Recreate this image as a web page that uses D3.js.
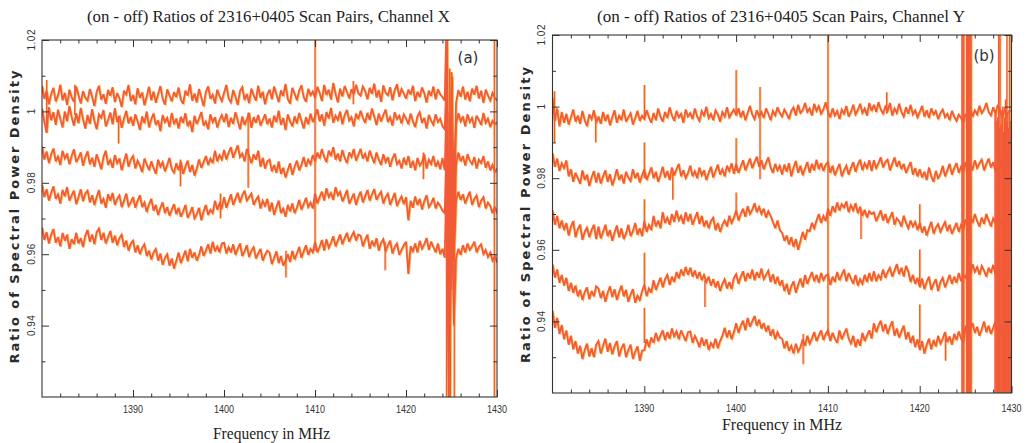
<!DOCTYPE html>
<html>
<head>
<meta charset="utf-8">
<title>(on - off) Ratios of 2316+0405 Scan Pairs</title>
<script src="https://d3js.org/d3.v7.min.js"></script>
<style>
  body { margin: 0; background: #fff; }
</style>
</head>
<body>
<script>
// frequency grid (MHz) shared by every scan
var freqs = d3.range(201).map(function(i) { return 1380 + i * 0.25; });

// scan ratios, stored as deviation from unity in units of 1e-4 (ratio = 1 + v/1e4)
// Channel X, five scan pairs, top to bottom
var scanX1 = [72,35,58,20,49,66,28,44,75,31,52,18,61,40,27,70,45,22,57,38,
  30,63,41,15,55,72,33,48,21,60,44,68,26,51,37,12,58,47,74,29,
  46,20,65,38,53,17,42,69,31,56,24,48,71,36,19,62,45,28,54,40,
  67,33,21,58,44,76,30,50,25,63,39,14,55,70,35,47,22,61,43,29,
  52,74,36,25,60,41,18,57,68,32,49,23,64,45,30,72,38,55,20,47,
  61,34,70,48,26,59,43,77,35,22,66,50,31,58,73,40,27,63,45,56,
  38,69,52,29,74,46,61,33,80,49,25,64,42,71,55,36,62,48,75,51,
  44,70,57,34,66,49,78,39,60,27,73,52,45,68,31,59,76,41,63,50,
  36,61,47,72,29,55,40,67,51,25,58,43,70,34,62,48,40,30,300,-900,
  110,-250,25,60,41,70,33,55,28,64,47,72,36,58,24,61,45,30,52,38,
  30];
var scanX2 = [8,-30,-60,12,-25,-2,-38,5,-20,-45,0,-28,15,-15,-40,-5,-33,10,-22,-48,
  -10,-35,6,-27,-50,-8,-18,4,-42,-24,-3,-36,9,-30,-12,-46,-20,2,-34,-15,
  -40,-8,-28,-52,-14,-33,0,-45,-22,-6,-38,-25,-55,-10,-30,-18,-44,-4,-36,-20,
  -48,-15,-32,-5,-42,-26,-58,-12,-35,-20,-2,-40,-28,-50,-8,-30,-16,-45,-24,-10,
  -30,-6,-44,-18,-35,-2,-26,-50,-14,-38,-22,-4,-46,-16,-32,-10,-40,-24,-8,-36,
  -20,-45,-12,-30,2,-38,-18,-52,-8,-28,-42,-14,-34,-4,-26,-48,-16,-36,-6,-30,
  -14,6,-28,-8,-40,-2,-20,10,-32,-12,-24,0,-36,-10,4,-26,-16,-42,-6,-22,
  2,-18,-32,-4,-24,8,-14,-38,-6,-28,-10,5,-30,-16,-40,-2,-22,-12,-34,-8,
  -20,-36,-6,-28,-44,-14,-2,-32,-18,-48,-10,-26,-38,-8,-30,-20,-42,-50,120,-800,
  60,-300,-35,-5,-28,-14,-42,-8,-30,-18,-46,-12,-24,-38,-4,-32,-20,-44,-26,-36,
  -30];
var scanX3 = [-98,-135,-112,-145,-120,-104,-140,-126,-150,-110,-132,-118,-148,-125,-106,-142,-130,-115,-152,-128,
  -112,-148,-130,-155,-120,-140,-162,-128,-110,-150,-136,-158,-122,-145,-132,-165,-140,-118,-155,-135,
  -125,-160,-138,-152,-170,-132,-148,-165,-140,-158,-175,-135,-155,-142,-168,-150,-130,-162,-172,-145,
  -165,-140,-175,-155,-138,-170,-150,-180,-160,-135,-158,-142,-125,-150,-132,-145,-110,-140,-122,-135,
  -108,-135,-115,-100,-130,-112,-95,-128,-118,-140,-105,-125,-145,-120,-135,-110,-155,-130,-160,-140,
  -135,-168,-150,-172,-140,-175,-158,-185,-165,-145,-178,-155,-138,-165,-150,-128,-155,-135,-148,-122,
  -140,-115,-132,-105,-128,-142,-110,-125,-100,-135,-118,-140,-108,-130,-145,-115,-128,-105,-138,-122,
  -105,-132,-118,-140,-110,-128,-145,-115,-135,-150,-120,-142,-128,-155,-132,-118,-148,-138,-160,-130,
  -150,-125,-158,-138,-165,-130,-152,-142,-120,-160,-135,-148,-125,-155,-140,-162,-130,-165,60,-900,
  -30,-400,-150,-115,-140,-125,-152,-120,-138,-148,-128,-160,-135,-145,-125,-158,-140,-165,-150,-170,
  -160];
var scanX4 = [-205,-240,-218,-250,-228,-210,-245,-232,-258,-220,-238,-212,-250,-235,-222,-260,-240,-218,-252,-230,
  -222,-255,-235,-262,-240,-220,-258,-245,-270,-232,-250,-228,-262,-245,-235,-268,-250,-230,-265,-255,
  -240,-270,-250,-235,-268,-255,-282,-260,-245,-278,-262,-290,-270,-255,-285,-268,-292,-275,-260,-288,
  -270,-295,-280,-262,-298,-285,-268,-300,-288,-270,-305,-280,-262,-290,-275,-285,-250,-275,-258,-270,
  -240,-270,-252,-232,-262,-245,-228,-255,-235,-222,-250,-240,-230,-262,-248,-238,-272,-250,-265,-245,
  -280,-255,-290,-268,-250,-285,-272,-295,-262,-280,-258,-285,-270,-248,-275,-260,-242,-268,-255,-272,
  -230,-258,-240,-225,-250,-215,-240,-228,-248,-212,-235,-225,-252,-238,-220,-258,-245,-230,-262,-240,
  -225,-255,-238,-220,-250,-232,-218,-248,-235,-225,-258,-240,-230,-262,-245,-228,-265,-250,-238,-260,
  -240,-305,-250,-270,-238,-262,-245,-275,-252,-235,-268,-258,-242,-272,-255,-265,-278,-285,-50,-880,
  -120,-420,-250,-225,-248,-232,-258,-240,-225,-262,-245,-235,-268,-250,-240,-272,-255,-265,-285,-268,
  -285];
var scanX5 = [-325,-360,-338,-370,-345,-330,-368,-352,-378,-340,-362,-345,-385,-358,-372,-340,-370,-355,-380,-348,
  -332,-365,-345,-372,-338,-328,-360,-340,-370,-352,-335,-368,-348,-375,-355,-345,-380,-362,-390,-370,
  -362,-395,-375,-400,-382,-372,-405,-390,-415,-395,-385,-418,-398,-430,-410,-400,-432,-412,-440,-418,
  -395,-425,-408,-390,-420,-385,-410,-395,-418,-402,-378,-405,-390,-372,-398,-365,-392,-378,-395,-370,
  -368,-398,-380,-395,-372,-402,-385,-370,-405,-392,-375,-408,-390,-380,-412,-398,-385,-418,-402,-390,
  -395,-428,-410,-392,-425,-405,-432,-418,-400,-422,-390,-415,-398,-380,-410,-392,-375,-402,-385,-395,
  -365,-395,-380,-360,-390,-358,-382,-368,-350,-378,-362,-345,-372,-355,-340,-365,-350,-338,-362,-345,
  -348,-378,-360,-345,-385,-362,-378,-355,-390,-368,-358,-392,-375,-362,-398,-380,-370,-402,-388,-375,
  -365,-455,-378,-392,-370,-395,-362,-385,-372,-355,-388,-365,-380,-395,-370,-400,-385,-410,-120,-900,
  -200,-600,-410,-385,-402,-375,-395,-370,-388,-378,-365,-395,-380,-372,-400,-388,-408,-395,-418,-405,
  -424];

// Channel Y, five scan pairs, top to bottom
var scanY1 = [25,-40,-5,-55,-15,-45,-20,-50,-30,-8,-42,-25,-48,-12,-38,-55,-22,-35,-10,-45,
  -28,-48,-15,-40,-22,-52,-30,-10,-45,-25,-38,-8,-42,-30,-18,-50,-32,-12,-40,-25,
  -35,-10,-30,-45,-18,-38,-5,-28,-42,-15,-32,-2,-25,-40,-12,-30,-20,-45,-8,-28,
  -18,-35,-5,-28,-40,-12,-25,0,-32,-20,-38,-10,-22,-42,-15,-28,-2,-30,-18,-8,
  -25,-5,-30,-12,-38,-18,2,-22,-35,-10,-28,-15,-32,-5,-20,-38,-12,-25,-2,-18,
  -28,-8,-20,-35,-12,-2,-25,5,-18,-10,10,-15,-5,-25,8,-12,2,-20,-8,12,
  -15,-30,-5,-25,-12,-35,-8,-20,2,-28,-15,5,-22,-10,8,-18,-5,-25,10,-12,
  5,-15,12,-8,-20,0,-12,10,-25,-5,-18,8,-15,-28,-2,-20,5,-22,-10,-30,
  -15,2,-28,-10,-32,-5,-22,-12,-35,-18,-8,-30,-20,-38,-12,-28,-40,-22,-32,-45,
  -20,-35,-5,-28,-10,-22,2,-18,-8,10,-15,-25,-2,-20,5,-15,-30,-8,-22,-12,
  -12];
var scanY2 = [-130,-168,-145,-180,-158,-172,-150,-195,-175,-210,-185,-200,-215,-178,-205,-190,-222,-198,-180,-212,
  -185,-215,-195,-178,-210,-188,-220,-200,-175,-205,-190,-215,-182,-198,-208,-175,-200,-185,-212,-192,
  -175,-205,-188,-170,-200,-182,-210,-192,-168,-198,-180,-205,-170,-192,-175,-160,-195,-178,-200,-185,
  -165,-195,-180,-200,-170,-192,-178,-205,-185,-168,-198,-180,-162,-190,-175,-195,-165,-180,-158,-188,
  -160,-185,-168,-150,-178,-162,-145,-172,-155,-140,-168,-150,-175,-158,-142,-170,-185,-160,-178,-165,
  -190,-162,-182,-158,-195,-170,-152,-185,-165,-192,-172,-155,-185,-160,-178,-148,-175,-158,-180,-162,
  -155,-185,-165,-192,-175,-160,-195,-178,-165,-190,-172,-155,-182,-162,-148,-178,-158,-172,-150,-180,
  -150,-172,-158,-142,-170,-155,-148,-178,-160,-142,-168,-152,-175,-160,-185,-170,-155,-190,-172,-195,
  -175,-198,-182,-205,-170,-195,-210,-180,-200,-188,-165,-195,-178,-160,-190,-172,-158,-185,-168,-182,
  -155,-180,-162,-175,-150,-172,-158,-148,-178,-160,-145,-170,-155,-182,-162,-150,-175,-158,-168,-152,
  -170];
var scanY3 = [-290,-330,-305,-340,-318,-345,-325,-360,-335,-320,-365,-342,-330,-372,-350,-338,-365,-345,-330,-370,
  -335,-368,-350,-330,-362,-345,-375,-352,-332,-365,-340,-370,-355,-330,-362,-348,-325,-358,-340,-362,
  -320,-350,-330,-345,-305,-335,-318,-340,-295,-325,-310,-330,-300,-322,-290,-318,-305,-328,-295,-320,
  -300,-330,-312,-295,-328,-305,-335,-318,-340,-320,-310,-345,-325,-350,-330,-318,-335,-305,-325,-310,
  -290,-318,-300,-285,-308,-278,-300,-288,-270,-295,-280,-300,-285,-310,-292,-305,-322,-340,-318,-345,
  -352,-375,-360,-385,-365,-392,-370,-400,-375,-350,-372,-345,-348,-325,-340,-318,-300,-325,-305,-320,
  -285,-305,-278,-295,-268,-290,-272,-282,-265,-295,-275,-290,-270,-298,-280,-305,-288,-310,-292,-300,
  -295,-320,-305,-290,-318,-300,-325,-310,-295,-330,-312,-320,-335,-305,-325,-340,-318,-335,-322,-345,
  -325,-352,-335,-360,-340,-322,-355,-338,-328,-350,-335,-322,-348,-330,-355,-340,-325,-350,-330,-345,
  -315,-335,-305,-325,-300,-320,-335,-310,-328,-300,-318,-335,-312,-325,-305,-330,-315,-335,-320,-310,
  -322];
var scanY4 = [-440,-478,-455,-492,-470,-500,-478,-515,-492,-520,-500,-530,-512,-540,-518,-505,-538,-515,-530,-502,
  -508,-535,-515,-545,-520,-502,-532,-510,-540,-518,-500,-530,-512,-545,-525,-510,-548,-528,-540,-515,
  -498,-530,-508,-520,-485,-512,-495,-478,-505,-482,-470,-498,-475,-490,-462,-480,-455,-472,-448,-470,
  -450,-475,-458,-480,-462,-485,-470,-490,-475,-500,-482,-505,-488,-515,-495,-482,-508,-490,-510,-478,
  -468,-495,-475,-460,-488,-465,-480,-455,-485,-462,-478,-452,-482,-470,-458,-490,-468,-495,-475,-500,
  -485,-515,-495,-525,-502,-488,-520,-498,-480,-505,-470,-495,-478,-462,-488,-470,-492,-465,-485,-472,
  -468,-498,-475,-490,-462,-485,-470,-455,-488,-465,-480,-495,-470,-500,-482,-495,-470,-490,-465,-488,
  -460,-488,-470,-482,-455,-478,-462,-450,-475,-458,-440,-468,-450,-475,-445,-460,-490,-470,-495,-478,
  -505,-480,-510,-490,-475,-512,-495,-482,-515,-490,-478,-505,-488,-470,-495,-475,-492,-465,-488,-470,
  -478,-450,-470,-440,-462,-448,-470,-445,-458,-475,-450,-465,-442,-470,-455,-480,-460,-448,-472,-458,
  -465];
var scanY5 = [-570,-618,-590,-635,-610,-650,-625,-665,-640,-678,-655,-690,-668,-705,-680,-662,-698,-675,-700,-665,
  -655,-690,-668,-648,-685,-660,-692,-670,-655,-698,-675,-662,-700,-680,-665,-705,-685,-670,-710,-682,
  -680,-650,-672,-645,-660,-632,-655,-640,-625,-652,-630,-648,-620,-642,-628,-650,-625,-640,-655,-630,
  -628,-660,-640,-655,-672,-645,-668,-650,-680,-660,-672,-648,-675,-655,-640,-618,-645,-625,-650,-630,
  -605,-632,-612,-598,-625,-590,-615,-600,-585,-612,-595,-620,-605,-628,-612,-640,-622,-650,-630,-645,
  -648,-675,-655,-682,-668,-690,-662,-685,-672,-650,-668,-640,-662,-648,-630,-655,-640,-625,-652,-635,
  -625,-655,-632,-648,-660,-625,-650,-635,-620,-648,-662,-640,-672,-650,-668,-632,-655,-640,-625,-648,
  -605,-630,-612,-598,-628,-608,-635,-615,-600,-640,-620,-645,-628,-612,-650,-630,-660,-640,-672,-650,
  -680,-655,-690,-665,-648,-678,-652,-670,-640,-662,-648,-630,-658,-642,-665,-635,-652,-628,-648,-660,
  -612,-640,-620,-605,-632,-615,-640,-622,-600,-630,-612,-635,-618,-600,-628,-610,-638,-622,-605,-632,
  -625];

// narrow interference / noise spikes: [MHz, upper ratio, lower ratio]
var spikesX = [[1380.5, 1.0088, 0.994], [1402.65, 0.9996, 0.9786], [1410, 1.03, 0.961],
  [1383.6, 1.0075, 0.999], [1388.4, 0.9985, 0.991], [1395.2, 0.9865, 0.979], [1399.6, 0.977, 0.970],
  [1406.8, 0.961, 0.9535], [1414.2, 1.0085, 1.002], [1417.7, 0.9635, 0.9555], [1421.9, 0.9885, 0.981],
  [1424.45, 1.03, 0.90], [1424.6, 1.0, 0.955], [1424.8, 1.012, 0.90], [1424.95, 0.998, 0.95],
  [1425.1, 1.0097, 0.955], [1425.3, 0.99, 0.90], [1429.7, 1.03, 0.90]];
var spikesY = [[1380.2, 1.0043, 0.990],
  [1390, 1.006, 0.997], [1390, 0.990, 0.980], [1390, 0.9741, 0.966], [1390, 0.9592, 0.949], [1390, 0.9438, 0.934],
  [1400, 1.0102, 0.998], [1400, 0.9912, 0.982], [1400, 0.976, 0.970],
  [1402.6, 1.0055, 0.9797], [1410, 1.03, 0.936],
  [1420, 0.9727, 0.966], [1420, 0.9601, 0.951], [1420, 0.9447, 0.934],
  [1384.7, 0.9975, 0.990], [1393.1, 0.9815, 0.974], [1396.6, 0.9515, 0.944], [1407.3, 0.9365, 0.928],
  [1413.6, 0.971, 0.963], [1416.4, 1.004, 0.998], [1422.8, 0.9355, 0.929],
  [1424.6, 1.03, 0.90], [1424.7, 1.03, 0.90], [1424.8, 1.03, 0.90], [1425.1, 1.03, 0.90],
  [1425.2, 1.03, 0.90], [1425.3, 1.03, 0.90], [1425.4, 1.03, 0.90], [1425.5, 1.03, 0.90], [1425.6, 1.03, 0.90],
  [1428.2, 0.998, 0.90], [1428.3, 0.999, 0.90], [1428.4, 0.996, 0.90], [1428.5, 0.997, 0.90],
  [1428.6, 1.03, 0.90], [1428.7, 0.994, 0.90], [1428.75, 1.03, 0.90], [1428.85, 0.995, 0.90],
  [1428.95, 0.999, 0.90], [1429.05, 1.0, 0.90], [1429.15, 0.993, 0.90], [1429.25, 0.997, 0.90],
  [1429.35, 1.002, 0.90], [1429.45, 0.996, 0.90], [1429.5, 1.03, 0.90], [1429.6, 0.998, 0.90],
  [1429.7, 0.994, 0.90], [1429.8, 1.03, 0.90], [1429.9, 0.996, 0.90]];

var xTicks = [1390, 1400, 1410, 1420, 1430];
var xMinor = [1382, 1384, 1386, 1388, 1392, 1394, 1396, 1398, 1402, 1404, 1406, 1408,
  1412, 1414, 1416, 1418, 1422, 1424, 1426, 1428];
var yTicks = [0.94, 0.96, 0.98, 1, 1.02];
var yMinor = [0.93, 0.95, 0.97, 0.99, 1.01];

[scanX1, scanX2, scanX3, scanX4, scanX5, scanY1, scanY2, scanY3, scanY4, scanY5].forEach(function(s, i) {
  if (s.length !== freqs.length) throw new Error("scan " + i + " has " + s.length + " points");
});

var panels = [
  { title: "(on - off) Ratios of 2316+0405 Scan Pairs, Channel X", tag: "(a)",
    scans: [scanX1, scanX2, scanX3, scanX4, scanX5], spikes: spikesX,
    left: 42, right: 497, top: 40, bottom: 397,
    titleX: 268.5, titleW: 363, ylabX: 18.5, ylabY: 217, ylabW: 293,
    xlabX: 271.5, xlabY: 439, xlabW: 117, tagX: 468, tagY: 63, ytickX: 35, xtickY: 412.5 },
  { title: "(on - off) Ratios of 2316+0405 Scan Pairs, Channel Y", tag: "(b)",
    scans: [scanY1, scanY2, scanY3, scanY4, scanY5], spikes: spikesY,
    left: 552.5, right: 1011.5, top: 35, bottom: 393,
    titleX: 781, titleW: 368, ylabX: 530, ylabY: 215, ylabW: 296,
    xlabX: 782, xlabY: 430, xlabW: 120, tagX: 984, tagY: 61, ytickX: 545, xtickY: 411.5 }
];

var svg = d3.select("body").append("svg").attr("width", 1026).attr("height", 443);

panels.forEach(function(p, k) {
  var x = d3.scaleLinear().domain([1380, 1430]).range([p.left, p.right]);
  var y = d3.scaleLinear().domain([0.92, 1.02]).range([p.bottom, p.top]);
  var g = svg.append("g");

  svg.append("clipPath").attr("id", "clip" + k).append("rect")
    .attr("x", p.left).attr("y", p.top)
    .attr("width", p.right - p.left).attr("height", p.bottom - p.top);
  var plot = g.append("g").attr("clip-path", "url(#clip" + k + ")");

  var line = d3.line()
    .x(function(d, i) { return x(freqs[i]); })
    .y(function(d) { return y(1 + d / 1e4); });

  // yellow print fringe under the red trace
  plot.selectAll("path.fringe").data(p.scans).enter().append("path")
    .attr("class", "fringe").attr("d", line)
    .attr("transform", "translate(1.1,0.6)")
    .attr("fill", "none").attr("stroke", "#ffc24a").attr("stroke-width", 1.2);
  plot.selectAll("line.sfringe").data(p.spikes).enter().append("line")
    .attr("class", "sfringe")
    .attr("x1", function(d) { return x(d[0]) + 1; }).attr("x2", function(d) { return x(d[0]) + 1; })
    .attr("y1", function(d) { return y(d[1]); }).attr("y2", function(d) { return y(d[2]); })
    .attr("stroke", "#ffc24a").attr("stroke-width", 1);

  plot.selectAll("path.scan").data(p.scans).enter().append("path")
    .attr("class", "scan").attr("d", line)
    .attr("fill", "none").attr("stroke", "#f25a38").attr("stroke-width", 1.8)
    .attr("stroke-linejoin", "miter").attr("stroke-miterlimit", 3);
  plot.selectAll("line.spike").data(p.spikes).enter().append("line")
    .attr("class", "spike")
    .attr("x1", function(d) { return x(d[0]); }).attr("x2", function(d) { return x(d[0]); })
    .attr("y1", function(d) { return y(d[1]); }).attr("y2", function(d) { return y(d[2]); })
    .attr("stroke", "#f25a38").attr("stroke-width", 1.4);

  // inward ticks on all four sides
  function axis(gen, scale, vals, size, tx, ty) {
    var a = g.append("g").attr("transform", "translate(" + tx + "," + ty + ")")
      .attr("color", "#333")
      .call(gen(scale).tickValues(vals).tickSize(size).tickFormat(""));
    a.select(".domain").remove();
    a.selectAll("line").attr("stroke-width", 1);
  }
  axis(d3.axisBottom, x, xTicks, -7, 0, p.bottom);
  axis(d3.axisBottom, x, xMinor, -3.5, 0, p.bottom);
  axis(d3.axisTop, x, xTicks, -7, 0, p.top);
  axis(d3.axisTop, x, xMinor, -3.5, 0, p.top);
  axis(d3.axisLeft, y, yTicks, -7, p.left, 0);
  axis(d3.axisLeft, y, yMinor, -3.5, p.left, 0);
  axis(d3.axisRight, y, yTicks, -7, p.right, 0);
  axis(d3.axisRight, y, yMinor, -3.5, p.right, 0);

  g.append("rect")
    .attr("x", p.left).attr("y", p.top)
    .attr("width", p.right - p.left).attr("height", p.bottom - p.top)
    .attr("fill", "none").attr("stroke", "#333").attr("stroke-width", 1.1);

  // tick labels
  g.selectAll("text.xt").data(xTicks).enter().append("text")
    .attr("class", "xt")
    .attr("x", function(d) { return Math.min(x(d), 1012); }).attr("y", p.xtickY)
    .attr("text-anchor", "middle")
    .attr("font-family", "Liberation Sans, sans-serif").attr("font-size", 11)
    .attr("fill", "#333")
    .attr("textLength", 20).attr("lengthAdjust", "spacingAndGlyphs")
    .text(function(d) { return d; });

  g.selectAll("text.yt").data(yTicks).enter().append("text")
    .attr("class", "yt")
    .attr("transform", function(d) { return "translate(" + p.ytickX + "," + y(d) + ") rotate(-90)"; })
    .attr("text-anchor", "middle")
    .attr("font-family", "Liberation Sans, sans-serif").attr("font-size", 10)
    .attr("fill", "#333")
    .each(function(d) { if (d !== 1) d3.select(this).attr("textLength", 21); })
    .text(function(d) { return d === 1 ? "1" : d3.format(".2f")(d); });

  // titles
  g.append("text")
    .attr("x", p.titleX).attr("y", 22).attr("text-anchor", "middle")
    .attr("font-family", "Liberation Serif, serif").attr("font-size", 16)
    .attr("fill", "#222")
    .attr("textLength", p.titleW).attr("lengthAdjust", "spacingAndGlyphs")
    .text(p.title);

  g.append("text")
    .attr("transform", "translate(" + p.ylabX + "," + p.ylabY + ") rotate(-90)")
    .attr("text-anchor", "middle")
    .attr("font-family", "DejaVu Sans, sans-serif").attr("font-size", 13).attr("font-weight", "bold")
    .attr("fill", "#2a2a2a")
    .attr("textLength", p.ylabW).attr("lengthAdjust", "spacing")
    .text("Ratio of Spectral Power Density");

  g.append("text")
    .attr("x", p.xlabX).attr("y", p.xlabY).attr("text-anchor", "middle")
    .attr("font-family", "Liberation Serif, serif").attr("font-size", 16)
    .attr("fill", "#222")
    .attr("textLength", p.xlabW).attr("lengthAdjust", "spacingAndGlyphs")
    .text("Frequency in MHz");

  g.append("text")
    .attr("x", p.tagX).attr("y", p.tagY).attr("text-anchor", "middle")
    .attr("font-family", "DejaVu Sans, sans-serif").attr("font-size", 15)
    .attr("fill", "#333")
    .text(p.tag);
});
</script>
</body>
</html>
